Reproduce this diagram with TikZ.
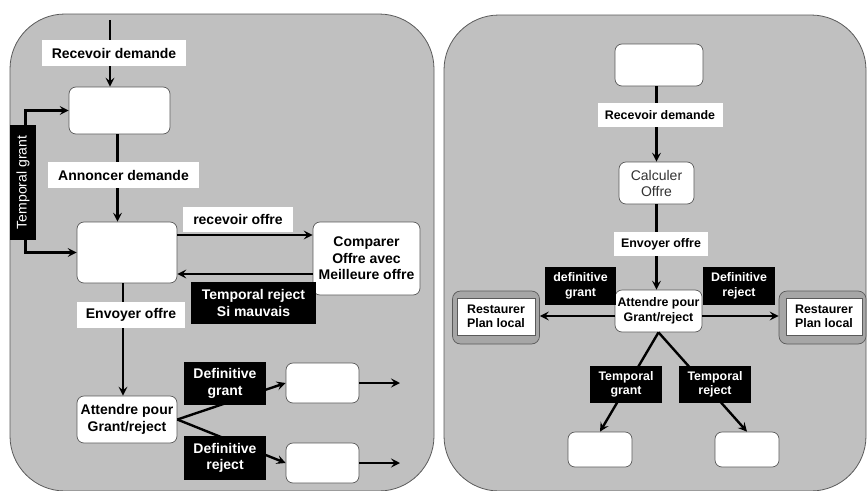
\documentclass[tikz,border=0pt]{standalone}
\usepackage{fontspec}
\setmainfont{Liberation Sans}
\usetikzlibrary{arrows.meta}

\definecolor{fond}{RGB}{192,192,192}
\definecolor{cadregris}{RGB}{166,166,166}
\definecolor{bord}{RGB}{90,90,90}

\begin{document}
\begin{tikzpicture}[x=1pt, y=-1pt,
    panneau/.style={draw=bord, fill=fond, rounded corners=55pt, line width=0.8pt},
    etat/.style={draw=bord, fill=white, rounded corners=7pt, line width=0.7pt, align=center, inner sep=0pt},
    blanc/.style={fill=white, inner sep=0pt, font=\bfseries},
    noir/.style={fill=black, text=white, inner sep=0pt, align=center, font=\bfseries},
    fleche/.style={line width=2.4pt, -{Stealth[length=9pt, width=9pt, inset=3.5pt]}},
    gros/.style={font=\fontsize{14}{16.5}\selectfont\bfseries},
    petit/.style={font=\fontsize{12.4}{14.5}\selectfont\bfseries}]
    \useasboundingbox (0,0) rectangle (867,490);

    % les deux panneaux
    \draw [panneau] (10,14) rectangle (434,491);
    \draw [panneau] (444,15) rectangle (866,491);

    % panneau gauche : les etats
    \coordinate (haut) at (110,20);
    \node [etat, minimum width=101pt, minimum height=47pt] (e1) at (119.5,110.5) {};
    \node [etat, minimum width=100pt, minimum height=61pt] (e2) at (127,252.5) {};
    \node [etat, gros, minimum width=107pt, minimum height=73pt] (cmp) at (366.5,258.5) {Comparer\\Offre avec\\Meilleure offre};
    \node [etat, gros, minimum width=100pt, minimum height=47pt] (att) at (127,419.5) {Attendre pour\\Grant/reject};
    \node [etat, minimum width=73pt, minimum height=40pt] (e3) at (322.5,383) {};
    \node [etat, minimum width=73pt, minimum height=40pt] (e4) at (322.5,463) {};
    \coordinate (sortie3) at (400,383);
    \coordinate (sortie4) at (400,463);

    % panneau gauche : les fleches
    \draw [fleche] (haut) -- (haut |- e1.north);
    \draw [fleche] ([xshift=-2pt]e1.south) -- ([xshift=-2pt]e1.south |- e2.north);
    \draw [fleche] ([xshift=-4pt]e2.south) -- ([xshift=-4pt]e2.south |- att.north);
    \draw [line width=2.4pt, {Stealth[length=9pt, width=9pt, inset=3.5pt]}-{Stealth[length=9pt, width=9pt, inset=3.5pt]}]
        (e2.west) -- ++(-51,0) |- (e1.west);
    \draw [fleche] ([yshift=17.5pt]e2.east) -- ([yshift=17.5pt]e2.east -| cmp.west);
    \draw [fleche] ([yshift=-15.5pt]cmp.west) -- ([yshift=-15.5pt]cmp.west -| e2.east);
    \draw [fleche] (att.east) -- (e3.west);
    \draw [fleche] (att.east) -- (e4.west);
    \draw [fleche] (e3.east) -- (sortie3);
    \draw [fleche] (e4.east) -- (sortie4);

    % panneau gauche : les etiquettes
    \node [blanc, gros, minimum width=144pt, minimum height=26pt] (rd1) at (114,53) {Recevoir demande};
    \node [blanc, gros, minimum width=151pt, minimum height=26pt] (ad1) at (123.5,175) {Annoncer demande};
    \node [blanc, gros, minimum width=110pt, minimum height=25pt] (ro1) at (238,219.5) {recevoir offre};
    \node [blanc, gros, minimum width=108pt, minimum height=26pt] (eo1) at (131,315) {Envoyer offre};
    \node [noir, font=\fontsize{14}{16.5}\selectfont, rotate=90, minimum width=115pt, minimum height=26pt] (tg1) at (23,182.5) {Temporal grant};
    \node [noir, gros, minimum width=125pt, minimum height=42pt] (tr1) at (253.5,303) {Temporal reject\\Si mauvais};
    \node [noir, gros, minimum width=82pt, minimum height=43pt] (dg1) at (225,383.5) {Definitive\\grant};
    \node [noir, gros, minimum width=82pt, minimum height=44pt] (dr1) at (225,458) {Definitive\\reject};

    % panneau droit : les etats
    \node [etat, minimum width=88pt, minimum height=42pt] (f1) at (659,65) {};
    \node [etat, font=\fontsize{14}{16}\selectfont, text=black!80, minimum width=75pt, minimum height=42pt] (calc) at (656.5,183) {Calculer\\Offre};
    \node [etat, petit, minimum width=87pt, minimum height=42pt] (att2) at (658.5,311) {Attendre pour\\Grant/reject};
    \node [draw=bord, fill=cadregris, rounded corners=8pt, line width=0.7pt, minimum width=87pt, minimum height=53pt] (rlc) at (496,317.5) {};
    \node [draw=bord, fill=white, petit, align=left, inner sep=0pt, minimum width=78pt, minimum height=37pt] (rl) at (496,316.5) {Restaurer\\Plan local};
    \node [draw=bord, fill=cadregris, rounded corners=8pt, line width=0.7pt, minimum width=87pt, minimum height=53pt] (rrc) at (822.5,317.5) {};
    \node [draw=bord, fill=white, petit, align=left, inner sep=0pt, minimum width=76pt, minimum height=37pt] (rr) at (824,316.5) {Restaurer\\Plan local};
    \node [etat, minimum width=64pt, minimum height=35pt] (b1) at (600,449.5) {};
    \node [etat, minimum width=64pt, minimum height=35pt] (b2) at (747,449.5) {};

    % panneau droit : les fleches
    \draw [fleche] (f1.south -| calc.north) -- (calc.north);
    \draw [fleche] (calc.south) -- (calc.south |- att2.north);
    \draw [fleche] ([yshift=-5pt]att2.west) -- ([yshift=-5pt]att2.west -| rlc.east);
    \draw [fleche] ([yshift=-5pt]att2.east) -- ([yshift=-5pt]att2.east -| rrc.west);
    \draw [fleche] (att2.south) -- (b1.north);
    \draw [fleche] (att2.south) -- (b2.north);

    % panneau droit : les etiquettes
    \node [blanc, petit, minimum width=125pt, minimum height=24pt] (rd2) at (660,115) {Recevoir demande};
    \node [blanc, petit, minimum width=94pt, minimum height=24pt] (eo2) at (661,244) {Envoyer offre};
    \node [noir, petit, minimum width=71pt, minimum height=38pt] (dg2) at (580.5,286) {definitive\\grant};
    \node [noir, petit, minimum width=72pt, minimum height=38pt] (dr2) at (739,286) {Definitive\\reject};
    \node [noir, petit, minimum width=72pt, minimum height=37pt] (tg2) at (626,384.5) {Temporal\\grant};
    \node [noir, petit, minimum width=72pt, minimum height=37pt] (tr2) at (715,384.5) {Temporal\\reject};
\end{tikzpicture}
\end{document}
